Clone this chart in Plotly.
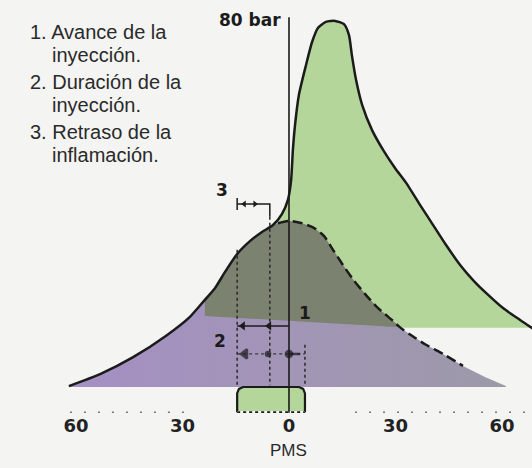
import plotly.graph_objects as go

# Crank angle (deg) and cylinder pressure (bar)
# solid curve: compression + combustion
comb_deg = [-62.0, -53.2, -43.9, -34.4, -27.9, -23.7, -20.8, -18.0, -14.6, -11.0,
            -7.6, -4.5, -2.0, -0.3, 0.6, 1.1, 1.7, 2.8, 4.8, 6.5,
            8.2, 10.4, 13.0, 15.5, 16.9, 17.7, 18.9, 20.6, 23.4, 26.5,
            29.9, 33.0, 36.9, 40.6, 44.2, 48.2, 52.1, 55.8, 60.3, 65.1, 69.3]
comb_bar = [0.2, 2.8, 6.5, 11.3, 15.3, 19.0, 21.6, 25.1, 29.0, 31.8,
            33.8, 35.3, 37.7, 40.8, 45.1, 51.7, 57.1, 63.7, 70.2, 75.2,
            78.3, 79.6, 79.8, 79.1, 76.7, 72.4, 66.9, 61.5, 56.0, 51.7,
            47.7, 44.5, 39.7, 35.3, 31.0, 26.6, 23.1, 20.3, 17.2, 14.6, 12.4]

# dashed curve: compression only (no combustion)
motor_deg = [-3.1, 0.3, 3.7, 7.0, 9.9, 12.4, 15.2, 18.0, 21.4, 24.8,
             29.3, 31.3, 33.8, 38.6, 43.4, 49.0, 55.2, 61.1]
motor_bar = [35.7, 36.2, 35.7, 34.7, 32.9, 29.9, 26.6, 23.5, 20.3, 17.4,
             14.4, 13.0, 11.6, 9.2, 7.2, 4.6, 2.2, 0.2]

# grey / violet boundary and floor of the green area
band_deg = [-23.7, 31.3]
band_bar = [15.5, 13.0]
green_floor = 12.9

# events (deg)
inj_start = -14.6
ign_start = -5.4
inj_end = 4.5
inj_low = -5.5

tick_vals = [-60, -30, 0, 30, 60]
tick_text = ["60", "30", "0", "30", "60"]

legend_lines = ["1. Avance de la", "inyección.", "2. Duración de la",
                "inyección.", "3. Retraso de la", "inflamación."]

BG = "#f4f4f2"
INK = "#1b1b1b"

i_g = comb_deg.index(band_deg[0])
i_j = comb_deg.index(-4.5)
m_cross = motor_deg.index(band_deg[1])
m_dash = motor_deg.index(49.0)

fig = go.Figure()

# green: area under combustion curve
fig.add_trace(go.Scatter(
    x=comb_deg[i_g:] + [comb_deg[-1], comb_deg[i_g]],
    y=comb_bar[i_g:] + [green_floor, green_floor],
    fill="toself", fillcolor="#b4d69b", line=dict(width=0), mode="lines",
    hoverinfo="skip", showlegend=False))

# violet: whole area under compression curve
fig.add_trace(go.Scatter(
    x=comb_deg[:i_j + 1] + motor_deg + [motor_deg[-1], comb_deg[0]],
    y=comb_bar[:i_j + 1] + motor_bar + [0, 0],
    fill="toself", line=dict(width=0), mode="lines",
    fillgradient=dict(type="horizontal",
                      colorscale=[[0, "#a58fc4"], [0.5, "#a295b6"], [1, "#9c99a8"]]),
    hoverinfo="skip", showlegend=False))

# grey: upper part of compression area
fig.add_trace(go.Scatter(
    x=[band_deg[0]] + comb_deg[i_g:i_j + 1] + motor_deg[:m_cross + 1],
    y=[band_bar[0]] + comb_bar[i_g:i_j + 1] + motor_bar[:m_cross + 1],
    fill="toself", fillcolor="#7b8270", line=dict(width=0), mode="lines",
    hoverinfo="skip", showlegend=False))

# curves
fig.add_trace(go.Scatter(x=comb_deg, y=comb_bar, mode="lines",
                         line=dict(color=INK, width=2.5, shape="spline", smoothing=0.6),
                         hoverinfo="skip", showlegend=False))
fig.add_trace(go.Scatter(x=motor_deg[:m_dash + 1], y=motor_bar[:m_dash + 1], mode="lines",
                         line=dict(color=INK, width=2.5, dash="10px,5px", shape="spline", smoothing=0.6),
                         hoverinfo="skip", showlegend=False))

# injection bar at the bottom (rounded top corners)
rh, rv = 1.7, 1.4
bx = [inj_start, inj_start, inj_start + 0.3 * rh, inj_start + rh,
      inj_end - rh, inj_end - 0.3 * rh, inj_end, inj_end]
by = [inj_low, -rv, -0.3 * rv, 0, 0, -0.3 * rv, -rv, inj_low]
fig.add_trace(go.Scatter(x=bx, y=by, fill="toself", fillcolor="#b4d69b", mode="lines",
                         line=dict(color=INK, width=2.2), hoverinfo="skip", showlegend=False))
fig.add_trace(go.Scatter(x=[inj_start, inj_end], y=[inj_low, inj_low], mode="lines",
                         line=dict(color=BG, width=2.4), hoverinfo="skip", showlegend=False))
fig.add_trace(go.Scatter(x=[inj_start, inj_end], y=[inj_low, inj_low], mode="lines",
                         line=dict(color=INK, width=2, dash="3px,3px"), hoverinfo="skip", showlegend=False))

# faint dashed base line
fig.add_trace(go.Scatter(x=[-61.7, -27.9, None, 18.6, 68.5], y=[inj_low] * 2 + [None] + [inj_low] * 2,
                         mode="lines", line=dict(color="#777", width=1.4, dash="2px,12px"),
                         hoverinfo="skip", showlegend=False))

# vertical axis through TDC
fig.add_trace(go.Scatter(x=[0, 0], y=[inj_low - 0.1, 80.6], mode="lines",
                         line=dict(color=INK, width=1.6), hoverinfo="skip", showlegend=False))

# dotted event lines
dot = dict(color="#2a2a2a", width=1.5, dash="dot")
fig.add_trace(go.Scatter(x=[inj_start, inj_start], y=[29.9, 0], mode="lines", line=dot,
                         hoverinfo="skip", showlegend=False))
fig.add_trace(go.Scatter(x=[ign_start, ign_start], y=[37.1, 0.4], mode="lines", line=dot,
                         hoverinfo="skip", showlegend=False))
fig.add_trace(go.Scatter(x=[inj_end, inj_end], y=[9.2, 0.4], mode="lines", line=dot,
                         hoverinfo="skip", showlegend=False))

# 3: ignition delay
fig.add_trace(go.Scatter(x=[inj_start, ign_start, ign_start], y=[39.9, 39.9, 37.1], mode="lines",
                         line=dict(color=INK, width=1.5), hoverinfo="skip", showlegend=False))
fig.add_trace(go.Scatter(x=[inj_start, inj_start], y=[41.2, 38.6], mode="lines",
                         line=dict(color=INK, width=1.5), hoverinfo="skip", showlegend=False))
fig.add_trace(go.Scatter(x=[-12.6, -9.6], y=[39.9, 39.9], mode="markers",
                         marker=dict(symbol=["triangle-left", "triangle-right"], size=6, color=INK),
                         hoverinfo="skip", showlegend=False))

# 1: injection advance
fig.add_trace(go.Scatter(x=[inj_start, 0], y=[13.3, 13.3], mode="lines",
                         line=dict(color=INK, width=1.4), hoverinfo="skip", showlegend=False))
fig.add_trace(go.Scatter(x=[-13.0, -5.6], y=[13.3, 13.3], mode="markers",
                         marker=dict(symbol="triangle-left", size=8, color=INK),
                         hoverinfo="skip", showlegend=False))

# 2: injection duration
fig.add_trace(go.Scatter(x=[inj_start, inj_end], y=[7.2, 7.2], mode="lines",
                         line=dict(color="#3a3a3a", width=1.3, dash="dot"), hoverinfo="skip", showlegend=False))
fig.add_trace(go.Scatter(x=[-12.4, -5.9, 0, 1.6], y=[7.2] * 4, mode="markers",
                         marker=dict(symbol=["triangle-left", "circle", "circle", "line-ew"],
                                     size=[8, 4, 6, 8], color=INK, line=dict(color=INK, width=2.5)),
                         hoverinfo="skip", showlegend=False))

ann = []
# legend text on the left
for k, txt in enumerate(legend_lines):
    ann.append(dict(x=-73.6 if k % 2 == 0 else -67.4, y=[77.4, 72.4, 66.5, 61.5, 55.6, 50.6][k],
                    text=txt, showarrow=False, xanchor="left", yanchor="middle",
                    font=dict(family="Liberation Sans", size=20, color="#2a2a2a")))
bold = dict(family="DejaVu Sans", size=17, color=INK, weight="bold")
ann.append(dict(x=0, y=80.0, text="80 bar", showarrow=False, xanchor="right", yanchor="middle",
                xshift=-6, font=bold))
ann.append(dict(x=-18.9, y=42.9, text="3", showarrow=False, font=bold))
ann.append(dict(x=4.5, y=16.1, text="1", showarrow=False, font=bold))
ann.append(dict(x=-19.4, y=10.0, text="2", showarrow=False, font=bold))
ann.append(dict(x=0, xref="x", y=-0.09, yref="paper", text="PMS", showarrow=False, yanchor="middle",
                font=dict(family="Liberation Sans", size=17, color="#2a2a2a")))

fig.update_layout(
    width=532, height=468,
    margin=dict(l=0, r=0, t=0, b=55),
    paper_bgcolor=BG, plot_bgcolor=BG,
    annotations=ann,
    xaxis=dict(range=[-81.4, 68.45], tickvals=tick_vals, ticktext=tick_text,
               showgrid=False, zeroline=False, showline=False, ticks="",
               tickfont=dict(family="DejaVu Sans", size=18, color="#222", weight="bold"),
               fixedrange=True),
    yaxis=dict(range=[-5.67, 84.36], visible=False, fixedrange=True),
)

# page body has a default 8px margin; drop it so the figure sits at the corner
fig.write_html("out.html", config={"displayModeBar": False},
               post_script="document.body.style.margin='0px';")
